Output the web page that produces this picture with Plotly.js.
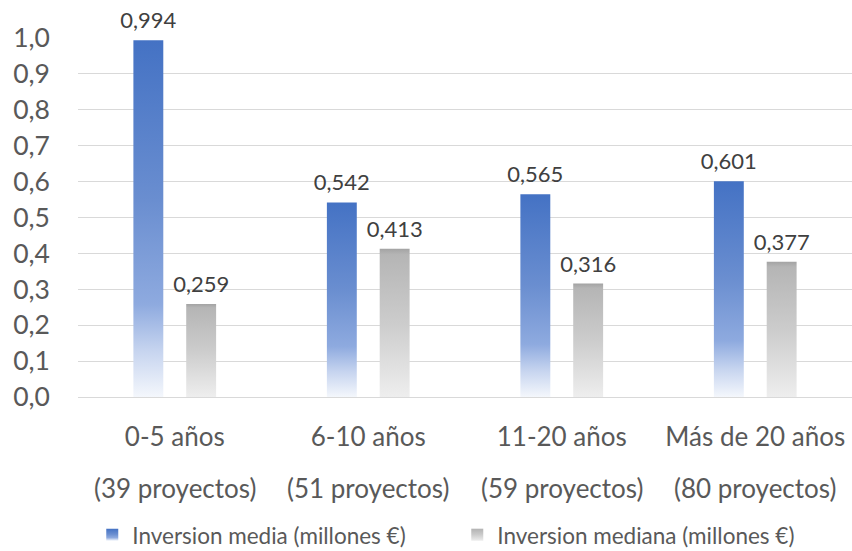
<!DOCTYPE html>
<html><head><meta charset="utf-8">
<script src="https://cdn.plot.ly/plotly-3.0.1.min.js"></script>
<style>html,body{margin:0;padding:0;background:#fff}#chart{width:852px;height:551px}</style>
</head><body><div id="chart"></div>
<script>
const categories = ['0-5 años', '6-10 años', '11-20 años', 'Más de 20 años'];
const projectCounts = ['(39 proyectos)', '(51 proyectos)', '(59 proyectos)', '(80 proyectos)'];
const mediaValues = [0.994, 0.542, 0.565, 0.601];
const medianaValues = [0.259, 0.413, 0.316, 0.377];
const seriesNames = ['Inversion media (millones €)', 'Inversion mediana (millones €)'];

const FONT = 'Lato, "Open Sans", sans-serif';
const textCol = '#595959';

const traces = [
  {type: 'bar', name: seriesNames[0], x: categories, y: mediaValues,
   marker: {color: '#4472C4'}, texttemplate: '%{y:.3f}', textposition: 'outside',
   constraintext: 'none', cliponaxis: false, hoverinfo: 'none',
   textfont: {family: FONT, size: 22, color: '#404040'}},
  {type: 'bar', name: seriesNames[1], x: categories, y: medianaValues,
   marker: {color: '#BFBFBF'}, texttemplate: '%{y:.3f}', textposition: 'outside',
   constraintext: 'none', cliponaxis: false, hoverinfo: 'none',
   textfont: {family: FONT, size: 22, color: '#404040'}}
];

const annotations = categories.map((c, i) => ({
  x: c, xref: 'x', y: -0.2535, yref: 'paper', yanchor: 'middle', xanchor: 'center',
  text: projectCounts[i], showarrow: false, font: {family: FONT, size: 26, color: textCol}
}));

const layout = {
  width: 852, height: 551,
  margin: {l: 78, r: 0, t: 38, b: 154, autoexpand: false},
  paper_bgcolor: '#fff', plot_bgcolor: '#fff',
  separators: ',.',
  barmode: 'group', bargap: 0.454, bargroupgap: 0.434,
  font: {family: FONT, color: textCol},
  showlegend: true,
  legend: {orientation: 'h', x: 0.49, xanchor: 'center', y: -0.385, yanchor: 'middle',
           entrywidth: 320,
           font: {family: FONT, size: 22.5, color: textCol}, itemclick: false, itemdoubleclick: false},
  xaxis: {showgrid: false, showline: false, ticks: '', tickfont: {family: FONT, size: 26, color: textCol},
          ticklabelstandoff: 22, fixedrange: true},
  yaxis: {range: [0, 1], dtick: 0.1, tick0: 0, tickformat: '.1f', showgrid: true, gridcolor: '#D9D9D9',
          gridwidth: 1, zeroline: true, zerolinecolor: '#D9D9D9', zerolinewidth: 1, showline: false,
          ticks: '', tickfont: {family: FONT, size: 26.5, color: textCol}, ticklabelstandoff: 27, fixedrange: true},
  annotations: annotations
};

function applyGradients(gd) {
  const svg = gd.querySelector('svg.main-svg');
  const NS = 'http://www.w3.org/2000/svg';
  let defs = svg.querySelector('defs#customgrads');
  if (!defs) {
    defs = document.createElementNS(NS, 'defs');
    defs.setAttribute('id', 'customgrads');
    svg.insertBefore(defs, svg.firstChild);
    const specs = {
      gBlue: [[0, '#4472C4'], [0.45, '#6A8ED0'], [0.74, '#8EAADF'], [0.87, '#C6D4EF'], [1, '#F4F7FC']],
      gGray: [[0, '#A3A3A3'], [0.04, '#B5B5B5'], [0.5, '#CCCCCC'], [1, '#EEEEEE']]
    };
    Object.keys(specs).forEach(id => {
      const lg = document.createElementNS(NS, 'linearGradient');
      lg.setAttribute('id', id);
      lg.setAttribute('x1', '0'); lg.setAttribute('y1', '0');
      lg.setAttribute('x2', '0'); lg.setAttribute('y2', '1');
      specs[id].forEach(([o, c]) => {
        const s = document.createElementNS(NS, 'stop');
        s.setAttribute('offset', o); s.setAttribute('stop-color', c);
        lg.appendChild(s);
      });
      defs.appendChild(lg);
    });
  }
  const ids = ['gBlue', 'gGray'];
  gd.querySelectorAll('.barlayer .trace').forEach((t, i) => {
    t.querySelectorAll('.point path').forEach(p => { p.style.fill = 'url(#' + ids[i] + ')'; });
    t.querySelectorAll('.point text').forEach(tx => {
      if (!tx.dataset.shifted) {
        const tr = tx.getAttribute('transform') || '';
        tx.setAttribute('transform', 'translate(0,-4) ' + tr);
        tx.dataset.shifted = '1';
      }
    });
  });
  gd.querySelectorAll('.legend .traces').forEach((t, i) => {
    t.querySelectorAll('.legendpoints path').forEach(p => { p.style.fill = 'url(#' + ids[i] + ')'; });
  });
}

const gd = document.getElementById('chart');
Plotly.newPlot(gd, traces, layout, {displayModeBar: false, staticPlot: true}).then(() => applyGradients(gd));
</script>
</body></html>
